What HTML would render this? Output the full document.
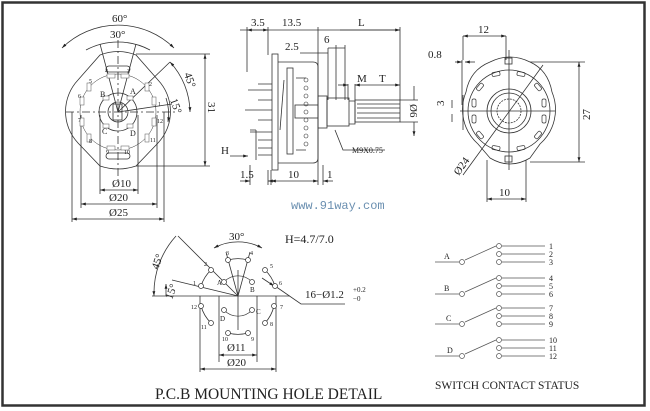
<!DOCTYPE html>
<html><head><meta charset="utf-8"><style>
html,body{margin:0;padding:0;background:#fff;}
svg{display:block}
text{font-family:"Liberation Serif",serif;fill:#222}
text.web{font-family:"Liberation Mono",monospace;fill:#6a8fb0}
</style></head><body>
<svg width="650" height="411" viewBox="0 0 650 411" xmlns="http://www.w3.org/2000/svg">
<defs>
<marker id="ar" viewBox="0 0 10 10" refX="10" refY="5" markerWidth="6" markerHeight="6" orient="auto-start-reverse"><path d="M0,2 L10,5 L0,8 z" fill="#222"/></marker>
</defs>
<rect x="0" y="0" width="650" height="411" fill="#fff"/>
<rect x="2.5" y="2.5" width="642" height="403" fill="none" stroke="#333" stroke-width="2.5"/>

<!-- LEFT VIEW -->
<g stroke="#333" fill="none" stroke-width="0.8">
<path d="M100,55 Q118,48 136,55 L158,80 A46,46 0 0 1 158,143 L136,166 Q118,172 100,166 L78,143 A46,46 0 0 1 78,80 Z"/>
<circle cx="118" cy="112" r="38" stroke-width="0.5"/>
<circle cx="118" cy="112" r="19"/>
<circle cx="118" cy="112" r="10"/>
<rect x="113" y="104" width="9" height="16"/>
<rect x="106" y="66" width="24" height="6" rx="3"/>
<rect x="106" y="153" width="24" height="6" rx="3"/>
<path d="M66,112 H175" stroke-dasharray="8,3,2,3"/>
<path d="M118,40 V180" stroke-dasharray="8,3,2,3"/>
<path d="M118,112 L100,44 M118,112 L136,44 M118,112 L170,62 M118,112 L172,104"/>
<path d="M62,48 A80,80 0 0 1 174,48" marker-start="url(#ar)" marker-end="url(#ar)"/>
<path d="M86,50 A68,68 0 0 1 150,50" />
<path d="M170,62 A75,75 0 0 1 190,112" marker-start="url(#ar)" marker-end="url(#ar)"/>
<path d="M166,98 A50,50 0 0 1 168,122" marker-end="url(#ar)"/>
<path d="M136,54 H210 M136,166 H210"/>
<path d="M205,54 V166" marker-start="url(#ar)" marker-end="url(#ar)"/>
<path d="M100,115 V194 M138,115 V194 M81,115 V208 M157,115 V208 M72,112 V222 M164,112 V222"/>
<path d="M100,190 H138" marker-start="url(#ar)" marker-end="url(#ar)"/>
<path d="M81,204 H157" marker-start="url(#ar)" marker-end="url(#ar)"/>
<path d="M72,219 H164" marker-start="url(#ar)" marker-end="url(#ar)"/>
</g>
<g fill="#fff" stroke="#555" stroke-width="0.5">
<rect x="107" y="74" width="8" height="4"/><rect x="121" y="74" width="8" height="4"/>
<rect x="87" y="83" width="4" height="8"/><rect x="145" y="83" width="4" height="8"/>
<rect x="80" y="97" width="4" height="8"/><rect x="152" y="97" width="4" height="8"/>
<rect x="80" y="118" width="4" height="8"/><rect x="152" y="118" width="4" height="8"/>
<rect x="87" y="134" width="4" height="8"/><rect x="145" y="134" width="4" height="8"/>
<rect x="107" y="146" width="8" height="4"/><rect x="121" y="146" width="8" height="4"/>
<rect x="103" y="96" width="6" height="4"/><rect x="127" y="96" width="6" height="4"/>
<rect x="103" y="124" width="6" height="4"/><rect x="127" y="124" width="6" height="4"/>
</g>
<g font-size="6">
<text x="105" y="73">4</text><text x="127" y="73">3</text><text x="89" y="83">5</text><text x="149" y="86">2</text>
<text x="78" y="98">6</text><text x="158" y="106">1</text><text x="78" y="122">7</text><text x="157" y="123">12</text>
<text x="89" y="143">8</text><text x="150" y="142">11</text><text x="106" y="154">9</text><text x="124" y="154">10</text>
</g>
<g font-size="8"><text x="100" y="97">B</text><text x="130" y="94">A</text><text x="102" y="134">C</text><text x="130" y="136">D</text></g>
<g font-size="11">
<text x="112" y="22">60°</text><text x="110" y="38">30°</text>
<text x="112" y="187">Ø10</text><text x="109" y="201">Ø20</text><text x="109" y="216">Ø25</text>
<text transform="translate(184,74) rotate(70)">45°</text>
<text transform="translate(170,100) rotate(70)">15°</text>
<text transform="translate(208,102) rotate(90)">31</text>
</g>

<!-- MIDDLE VIEW -->
<g stroke="#333" fill="none" stroke-width="0.8">
<path d="M240,30 H400" />
<path d="M247,27 V72 M268,27 V55 M318,27 V165 M400,27 V100"/>
<path d="M247,30 H268" marker-start="url(#ar)" marker-end="url(#ar)"/>
<path d="M340,30 H400" marker-end="url(#ar)"/>
<path d="M300,53 H328 M328,48 V100"/>
<path d="M336,45 V100 M345,45 V100 M328,48 H345"/>
<rect x="272" y="54" width="6" height="116"/>
<path d="M278,62 H313 Q318,62 318,67 V158 Q318,163 313,163 H278"/>
<rect x="287" y="68" width="6" height="86"/>
<path d="M284,80 L280,130"/>
<path d="M296,78 H306 M296,150 H306"/>
<g stroke-width="0.6"><circle cx="306" cy="80" r="2"/><circle cx="306" cy="88" r="2"/><circle cx="306" cy="96" r="2"/><circle cx="306" cy="104" r="2"/><circle cx="306" cy="112" r="2"/><circle cx="306" cy="120" r="2"/><circle cx="306" cy="128" r="2"/><circle cx="306" cy="136" r="2"/><circle cx="306" cy="144" r="2"/></g>
<rect x="295" y="105" width="23" height="13"/>
<rect x="318" y="96" width="9" height="32"/>
<rect x="327" y="98" width="22" height="28"/>
<path d="M349,101 L355,101 L355,124 L349,124"/>
<rect x="355" y="100" width="45" height="22"/>
<path d="M357,104 H400 M357,108 H400 M357,113 H400 M357,118 H400"/>
<path d="M400,100 H418 M400,122 H418"/>
<path d="M414,86 V100 M414,122 V136" marker-end="url(#ar)"/>
<path d="M348,84 V100 M355,84 V100"/>
<path d="M338,85 H348" marker-end="url(#ar)"/>
<path d="M355,85 H400" marker-start="url(#ar)" marker-end="url(#ar)"/>
<path d="M258,84 H272 M248,90 H272 M258,100 H272 M245,110 H272 M258,120 H272 M250,132 H272 M258,140 H272 M258,148 H272 M258,155 H272"/>
<path d="M256,130 V160 M250,130 H256"/>
<path d="M230,156 H248" marker-end="url(#ar)"/>
<path d="M250,165 V185 M268,170 V185 M271,170 V185 M318,165 V185 M323,165 V185"/>
<path d="M240,181 H250" marker-end="url(#ar)"/><path d="M268,181 H276" marker-start="url(#ar)"/>
<path d="M271,181 H318" marker-start="url(#ar)" marker-end="url(#ar)"/>
<path d="M323,181 H333" marker-start="url(#ar)"/>
<path d="M335,130 L343,150 H385"/>
</g>
<g font-size="11">
<text x="251" y="26">3.5</text><text x="282" y="26">13.5</text><text x="358" y="26">L</text>
<text x="285" y="50">2.5</text><text x="324" y="43">6</text>
<text x="357" y="82">M</text><text x="379" y="82">T</text>
<text x="221" y="154">H</text>
<text x="240" y="178">1.5</text><text x="288" y="178">10</text><text x="327" y="178">1</text>
<text transform="translate(410,104) rotate(90)">Ø6</text>
</g>
<text x="352" y="153" font-size="8">M9X0.75</text>

<!-- RIGHT VIEW -->
<g stroke="#333" fill="none" stroke-width="0.8">
<path d="M490,62 Q510,52 530,62 Q548,70 552,92 A46,46 0 0 1 540,144 L530,158 Q510,170 490,158 L478,144 A46,46 0 0 1 466,92 Q470,70 490,62 Z"/>
<circle cx="509" cy="111" r="41"/>
<circle cx="509" cy="111" r="22"/>
<circle cx="509" cy="111" r="18"/>
<circle cx="509" cy="111" r="12" stroke-dasharray="2,1"/>
<path d="M460,111 H555 M509,50 V170"/>
<path d="M463,175 L543,65"/>
<path d="M463,95 V130 M462,60 V105"/>
<path d="M463,36 V60 M506,36 V60"/>
<path d="M463,36 H506" marker-start="url(#ar)" marker-end="url(#ar)"/>
<path d="M455,62 H462" marker-end="url(#ar)"/><path d="M465,62 H475" marker-start="url(#ar)"/>
<path d="M530,62 H585 M530,162 H585"/>
<path d="M579,62 V162" marker-start="url(#ar)" marker-end="url(#ar)"/>
<path d="M487,160 V202 M526,160 V202"/>
<path d="M487,199 H526" marker-start="url(#ar)" marker-end="url(#ar)"/>
<path d="M452,100 V108 M452,114 V122"/>
<rect x="505" y="58" width="7" height="6"/><rect x="505" y="156" width="7" height="6"/>
</g>
<g fill="none" stroke="#333" stroke-width="0.7">
<rect x="492" y="72" width="8" height="4" rx="1.5" transform="rotate(-10 496 74)"/>
<rect x="517" y="72" width="8" height="4" rx="1.5" transform="rotate(10 521 74)"/>
<rect x="478" y="83" width="4" height="8" rx="1.5" transform="rotate(40 480 87)"/>
<rect x="536" y="83" width="4" height="8" rx="1.5" transform="rotate(-40 538 87)"/>
<rect x="472" y="99" width="4" height="8" rx="1.5"/><rect x="542" y="99" width="4" height="8" rx="1.5"/>
<rect x="472" y="115" width="4" height="8" rx="1.5"/><rect x="542" y="115" width="4" height="8" rx="1.5"/>
<rect x="478" y="131" width="4" height="8" rx="1.5" transform="rotate(-40 480 135)"/>
<rect x="536" y="131" width="4" height="8" rx="1.5" transform="rotate(40 538 135)"/>
<rect x="492" y="146" width="8" height="4" rx="1.5" transform="rotate(10 496 148)"/>
<rect x="517" y="146" width="8" height="4" rx="1.5" transform="rotate(-10 521 148)"/>
</g>
<g font-size="11">
<text x="478" y="33">12</text><text x="428" y="58">0.8</text>
<text transform="translate(444,106) rotate(-90)">3</text>
<text transform="translate(590,120) rotate(-90)">27</text>
<text transform="translate(459,176) rotate(-55)">Ø24</text>
<text x="499" y="196">10</text>
</g>
<text class="web" x="291" y="209" font-size="12">www.91way.com</text>

<!-- PCB -->
<g stroke="#333" fill="none" stroke-width="0.8">
<path d="M152,296 H290" />
<path d="M238,270 V330"/>
<path d="M238,296 L226,252 M238,296 L250,252 M238,296 L178,236 M238,296 L172,280"/>
<path d="M214,248 A50,50 0 0 1 262,248" marker-start="url(#ar)" marker-end="url(#ar)"/>
<path d="M176,236 A85,85 0 0 0 154,296" marker-end="url(#ar)"/>
<path d="M166,284 V296" marker-start="url(#ar)"/>
<path d="M201,286 A38,38 0 0 1 211,270 M228,260 A38,38 0 0 1 248,260 M265,270 A38,38 0 0 1 275,286 M274,306 A38,38 0 0 1 265,323 M248,333 A38,38 0 0 1 228,333 M211,323 A38,38 0 0 1 201,306" />
<path d="M224,282 A19,19 0 0 1 252,282 M252,310 A19,19 0 0 1 224,310" stroke-width="0.6"/>
<path d="M219,296 V362 M257,296 V362 M200,296 V372 M276,296 V372"/>
<path d="M219,355 H257" marker-start="url(#ar)" marker-end="url(#ar)"/>
<path d="M200,369 H276" marker-start="url(#ar)" marker-end="url(#ar)"/>
<path d="M275,286 L301,304 H345" />
<path d="M262,278 L274,286" marker-end="url(#ar)"/>
<g fill="#fff" stroke-width="0.7">
<circle cx="201" cy="286" r="2.5"/><circle cx="211" cy="270" r="2.5"/><circle cx="228" cy="260" r="2.5"/><circle cx="248" cy="260" r="2.5"/>
<circle cx="265" cy="270" r="2.5"/><circle cx="275" cy="286" r="2.5"/><circle cx="274" cy="306" r="2.5"/><circle cx="265" cy="323" r="2.5"/>
<circle cx="248" cy="333" r="2.5"/><circle cx="228" cy="333" r="2.5"/><circle cx="211" cy="323" r="2.5"/><circle cx="201" cy="306" r="2.5"/>
<circle cx="224" cy="282" r="2.5"/><circle cx="252" cy="282" r="2.5"/><circle cx="252" cy="310" r="2.5"/><circle cx="224" cy="310" r="2.5"/>
</g>
</g>
<g font-size="6">
<text x="193" y="285">1</text><text x="204" y="266">2</text><text x="226" y="255">3</text><text x="250" y="255">4</text>
<text x="270" y="268">5</text><text x="279" y="285">6</text><text x="280" y="309">7</text><text x="270" y="326">8</text>
<text x="251" y="341">9</text><text x="222" y="341">10</text><text x="201" y="329">11</text><text x="191" y="309">12</text>
</g>
<g font-size="7"><text x="217" y="285">A</text><text x="250" y="292">B</text><text x="256" y="314">C</text><text x="220" y="321">D</text></g>
<g font-size="11">
<text x="229" y="240">30°</text>
<text x="285" y="243" font-size="12">H=4.7/7.0</text>
<text transform="translate(158,270) rotate(-70)">45°</text>
<text transform="translate(172,300) rotate(-70)">15°</text>
<text x="305" y="298" font-size="11">16−Ø1.2</text>
<text x="353" y="292" font-size="7">+0.2</text><text x="353" y="301" font-size="7">−0</text>
<text x="227" y="351">Ø11</text><text x="227" y="366">Ø20</text>
</g>
<text x="155" y="399" font-size="15.5">P.C.B MOUNTING  HOLE  DETAIL</text>

<!-- SWITCH -->
<g stroke="#555" fill="none" stroke-width="0.7">
<g id="sw">
<path d="M435,262 H459 M465,260 L496,246"/>
<circle cx="462" cy="262" r="2.5"/>
<circle cx="499" cy="246" r="2.5"/><circle cx="499" cy="254" r="2.5"/><circle cx="499" cy="262" r="2.5"/>
<path d="M502,246 H545 M502,254 H545 M502,262 H545"/>
</g>
<use href="#sw" y="32"/><use href="#sw" y="62"/><use href="#sw" y="94"/>
</g>
<g font-size="8">
<text x="444" y="259">A</text><text x="444" y="291">B</text><text x="446" y="321">C</text><text x="447" y="353">D</text>
<text x="549" y="249">1</text><text x="549" y="257">2</text><text x="549" y="265">3</text>
<text x="549" y="281">4</text><text x="549" y="289">5</text><text x="549" y="297">6</text>
<text x="549" y="311">7</text><text x="549" y="319">8</text><text x="549" y="327">9</text>
<text x="549" y="343">10</text><text x="549" y="351">11</text><text x="549" y="359">12</text>
</g>
<text x="435" y="389" font-size="11.5">SWITCH CONTACT STATUS</text>
</svg>
</body></html>
